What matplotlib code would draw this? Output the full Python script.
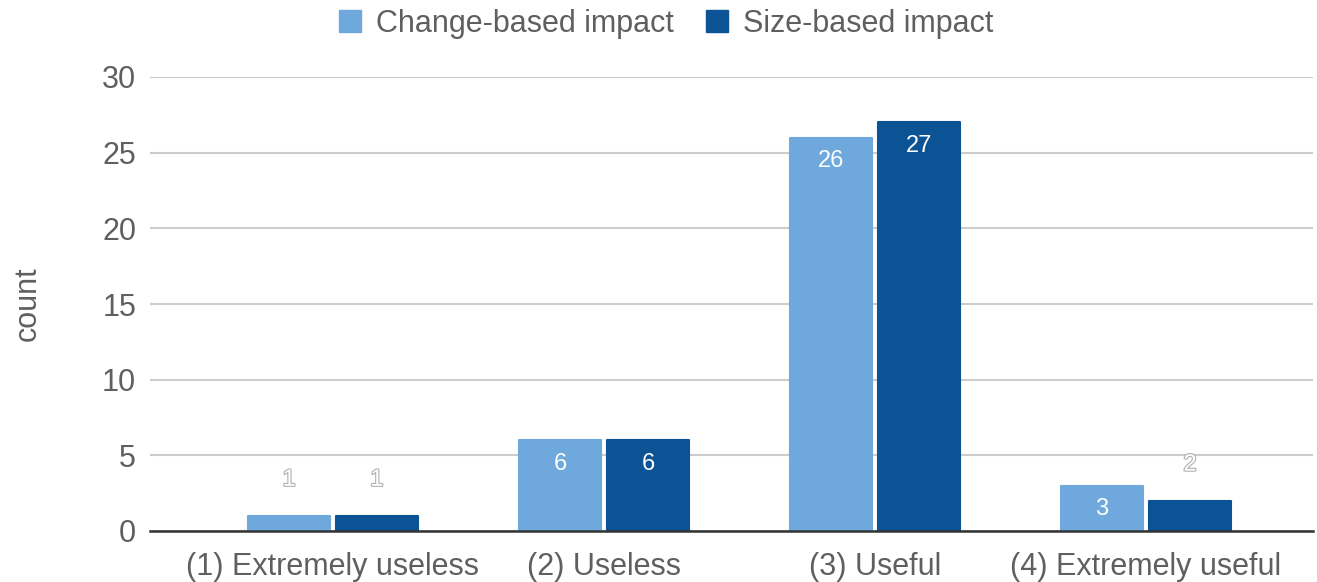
import matplotlib
matplotlib.use("Agg")
import matplotlib.pyplot as plt
import matplotlib.patheffects as pe
import numpy as np

categories = ["(1) Extremely useless", "(2) Useless", "(3) Useful", "(4) Extremely useful"]
series_names = ["Change-based impact", "Size-based impact"]
change_based = [1, 6, 26, 3]
size_based = [1, 6, 27, 2]
colors = ["#6fa8dc", "#0b5394"]

plt.rcParams["font.family"] = ["Liberation Sans", "DejaVu Sans"]
text_gray = "#5f5f5f"

fig = plt.figure(figsize=(13.17, 5.82), dpi=100)
ax = fig.add_axes([150 / 1317, 1 - 531 / 582, 1163 / 1317, 454 / 582])

x = np.arange(len(categories))
width = 0.300
offset = 0.162

for vals, off, col in [(change_based, -offset, colors[0]), (size_based, offset, colors[1])]:
    bars = ax.bar(x + off, vals, width=width, color=col, edgecolor=col,
                  linewidth=1.5, joinstyle="round", zorder=3)
    for b, v in zip(bars, vals):
        cx = b.get_x() + b.get_width() / 2
        if v >= 3:
            ax.annotate(str(v), (cx, v), xytext=(0, -17), textcoords="offset points",
                        ha="center", va="center", fontsize=17, color="white", zorder=5)
        else:
            t = ax.annotate(str(v), (cx, v), xytext=(0, 26), textcoords="offset points",
                            ha="center", va="center", fontsize=17, color="white", zorder=5)
            t.set_path_effects([pe.Stroke(linewidth=1.6, foreground="#b0b0b0"), pe.Normal()])

ax.set_xlim(-0.675, 3.616)
ax.set_ylim(0, 30)
ax.set_yticks(range(0, 31, 5))
ax.set_xticks(x)
ax.set_xticklabels(categories)
ax.tick_params(axis="both", length=0, labelsize=22, colors=text_gray)
ax.tick_params(axis="y", pad=10)
ax.tick_params(axis="x", pad=15)
ax.grid(axis="y", color="#cccccc", linewidth=1.5, zorder=0)
ax.set_axisbelow(True)
for s in ["top", "right", "left"]:
    ax.spines[s].set_visible(False)
ax.spines["bottom"].set_color("#333333")
ax.spines["bottom"].set_linewidth(1.8)
ax.spines["bottom"].set_zorder(4)

ax.set_ylabel("count", fontsize=22, color=text_gray, labelpad=43)

handles = [plt.Rectangle((0, 0), 1, 1, color=c) for c in colors]
fig.legend(handles, series_names, loc="upper center", bbox_to_anchor=(0.506, 1.032),
           ncol=2, frameon=False, fontsize=22, labelcolor=text_gray,
           handlelength=0.72, handleheight=0.72, handletextpad=0.5, columnspacing=1.05)

fig.savefig("out.png", dpi=100)
